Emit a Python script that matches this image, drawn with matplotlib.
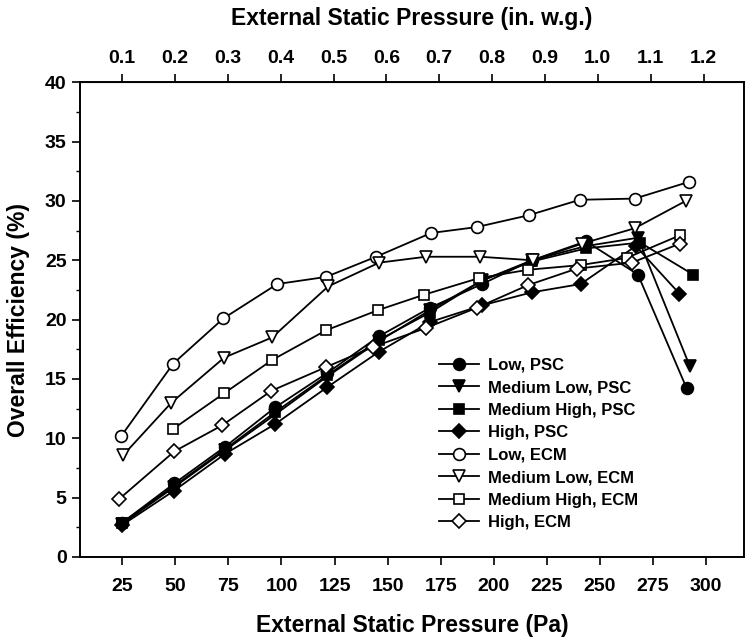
import numpy as np
import matplotlib
matplotlib.use("Agg")
import matplotlib.pyplot as plt
from matplotlib.ticker import MultipleLocator, FixedLocator, FormatStrFormatter

plt.rcParams['font.family'] = ['Liberation Sans', 'DejaVu Sans']
plt.rcParams['font.weight'] = 'bold'

# pressure (Pa) and efficiency (%) per series
x_psc = [25, 49.5, 73.5, 97, 121.5, 146, 170, 194.5, 218, 243.5, 268, 291]
low_psc = [2.9, 6.2, 9.3, 12.6, 15.5, 18.6, 21.0, 23.0, 25.0, 26.6, 23.8, 14.2]
x_ml_psc = [25, 49.5, 73.5, 97, 121.5, 146, 170, 194.5, 218, 243.5, 268, 292.4]
med_low_psc = [2.8, 5.9, 9.0, 12.0, 15.2, 18.2, 20.8, 23.3, 25.0, 26.2, 26.9, 16.1]
x_mh_psc = [25, 49.5, 73.5, 97, 121.5, 146, 170, 194.5, 218, 243.5, 269, 294]
med_high_psc = [2.9, 6.0, 9.1, 12.2, 15.3, 18.3, 20.6, 23.3, 24.9, 26.0, 26.5, 23.8]
x_h_psc = [25, 49.5, 73.5, 97, 121.5, 146, 170, 194.5, 218, 241, 267, 287.5]
high_psc = [2.7, 5.6, 8.7, 11.2, 14.3, 17.3, 19.8, 21.2, 22.3, 23.0, 26.2, 22.2]

x_low_ecm = [24.5, 49, 72.6, 98, 121, 144.6, 170.5, 192, 216.6, 240.6, 266.5, 291.9]
low_ecm = [10.2, 16.3, 20.1, 23.0, 23.6, 25.3, 27.3, 27.8, 28.8, 30.1, 30.2, 31.6]
x_ml_ecm = [25.5, 48.1, 73, 95.6, 122, 146, 168.1, 193.5, 218.5, 241.6, 266.5, 290.5]
med_low_ecm = [8.6, 13.0, 16.8, 18.5, 22.8, 24.8, 25.3, 25.3, 25.0, 26.4, 27.7, 30.0]
x_mh_ecm = [49, 73, 95.6, 121, 145.5, 167.2, 193.1, 216.1, 241, 262.7, 287.7]
med_high_ecm = [10.8, 13.8, 16.6, 19.1, 20.8, 22.1, 23.5, 24.2, 24.6, 25.2, 27.1]
x_h_ecm = [23.6, 49.5, 72.1, 95.2, 121, 143.2, 168.1, 192.1, 216.1, 239.2, 265.1, 287.7]
high_ecm = [4.9, 8.9, 11.1, 14.0, 16.0, 17.7, 19.3, 21.0, 22.9, 24.3, 24.8, 26.4]

fig = plt.figure(figsize=(7.47, 6.38), dpi=100)
ax = fig.add_axes([0.107, 0.127, 0.889, 0.744])

series = [
    (x_psc, low_psc, 'o', 'black', 'Low, PSC'),
    (x_ml_psc, med_low_psc, 'v', 'black', 'Medium Low, PSC'),
    (x_mh_psc, med_high_psc, 's', 'black', 'Medium High, PSC'),
    (x_h_psc, high_psc, 'D', 'black', 'High, PSC'),
    (x_low_ecm, low_ecm, 'o', 'white', 'Low, ECM'),
    (x_ml_ecm, med_low_ecm, 'v', 'white', 'Medium Low, ECM'),
    (x_mh_ecm, med_high_ecm, 's', 'white', 'Medium High, ECM'),
    (x_h_ecm, high_ecm, 'D', 'white', 'High, ECM'),
]
sizes = {'o': 8.5, 'v': 8.5, 's': 7.5, 'D': 7}
for xs, ys, m, fc, lab in series:
    ax.plot(xs, ys, color='black', lw=1.3, marker=m, ms=sizes[m], mfc=fc,
            mec='black', mew=1.2, label=lab)

ax.set_xlim(5, 318)
ax.set_ylim(0, 40)
ax.set_xticks(np.arange(25, 301, 25))
ax.yaxis.set_major_locator(MultipleLocator(5))
ax.yaxis.set_minor_locator(MultipleLocator(2.5))
ax.tick_params(axis='x', which='major', direction='out', length=6, width=1.2,
               labelsize=14, pad=9)
ax.tick_params(axis='y', which='major', direction='out', length=6, width=1.2,
               labelsize=14, pad=3.6)
ax.tick_params(axis='y', which='minor', direction='out', length=3, width=1)
for s in ax.spines.values():
    s.set_linewidth(1.4)

ax.set_xlabel('External Static Pressure (Pa)', fontsize=16.5, fontweight='bold',
              labelpad=14)
ax.set_ylabel('Overall Efficiency (%)', fontsize=16.5, fontweight='bold',
              labelpad=11)

top = ax.secondary_xaxis('top', functions=(lambda p: p / 249.09, lambda w: w * 249.09))
top.xaxis.set_major_locator(FixedLocator(np.round(np.arange(0.1, 1.21, 0.1), 1)))
top.xaxis.set_major_formatter(FormatStrFormatter('%.1f'))
top.tick_params(direction='out', length=6, width=1.2, labelsize=14, pad=5)
top.set_xlabel('External Static Pressure (in. w.g.)', fontsize=16.5,
               fontweight='bold', labelpad=18)

ax.legend(loc='upper left', bbox_to_anchor=(0.541, 0.42), frameon=False,
          fontsize=12, handlelength=2.4, handletextpad=0.5, labelspacing=0.45,
          borderpad=0, borderaxespad=0)

fig.savefig('out.png', dpi=100)
